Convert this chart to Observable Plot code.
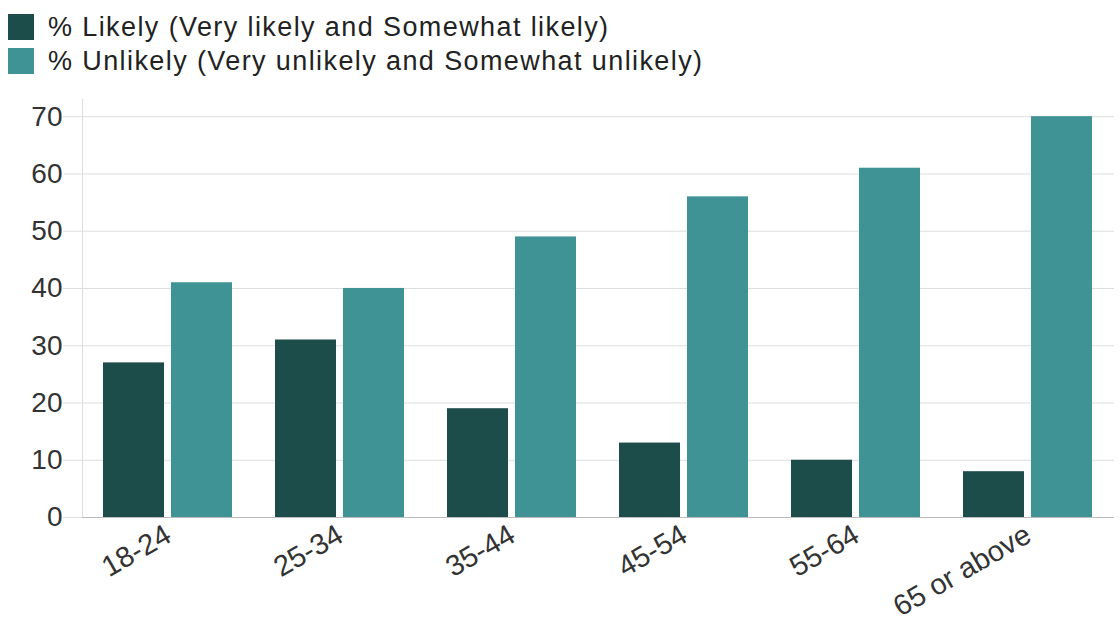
<!DOCTYPE html>
<html>
<head>
<meta charset="utf-8">
<script src="https://cdn.jsdelivr.net/npm/d3@7"></script>
<script src="https://cdn.jsdelivr.net/npm/@observablehq/plot@0.6"></script>
<style>
  html, body { margin: 0; padding: 0; background: #fff; }
  #legend { height: 90px; box-sizing: border-box; padding: 14px 0 0 8px; font-family: "Liberation Sans", Arial, sans-serif; font-size: 27px; color: #222; letter-spacing: 1.4px; }
  .row { display: flex; align-items: center; height: 26px; margin-bottom: 8px; }
  .sw { width: 26px; height: 26px; margin-right: 14px; flex: none; }
</style>
</head>
<body>
<div id="legend"></div>
<div id="chart"></div>
<script>
const ageGroups = ["18-24", "25-34", "35-44", "45-54", "55-64", "65 or above"];
const seriesNames = ["% Likely (Very likely and Somewhat likely)", "% Unlikely (Very unlikely and Somewhat unlikely)"];
const likely = [27, 31, 19, 13, 10, 8];
const unlikely = [41, 40, 49, 56, 61, 70];
const yTicks = [0, 10, 20, 30, 40, 50, 60, 70];
const colors = ["#1d4d4b", "#3f9395"];

const data = [];
ageGroups.forEach((age, i) => {
  data.push({age, series: seriesNames[0], value: likely[i]});
  data.push({age, series: seriesNames[1], value: unlikely[i]});
});

const legend = document.getElementById("legend");
seriesNames.forEach((name, i) => {
  const row = document.createElement("div");
  row.className = "row";
  const sw = document.createElement("span");
  sw.className = "sw";
  sw.style.background = colors[i];
  const t = document.createElement("span");
  t.textContent = name;
  row.appendChild(sw); row.appendChild(t);
  legend.appendChild(row);
});

const chart = Plot.plot({
  width: 1120,
  height: 532,
  marginTop: 9,
  marginBottom: 105,
  marginLeft: 82,
  marginRight: 6,
  style: {fontFamily: "'Liberation Sans', Arial, sans-serif", fontSize: "28px", color: "#333", background: "#fff"},
  fx: {domain: ageGroups, padding: 0, label: null},
  x: {domain: seriesNames, paddingInner: 0.1, paddingOuter: 0.307, axis: null},
  y: {domain: [0, 73], label: null},
  color: {domain: seriesNames, range: colors},
  marks: [
    Plot.gridY(yTicks, {stroke: "#ddd", strokeOpacity: 1}),
    Plot.axisY(yTicks, {tickSize: 19, tickPadding: 1, stroke: "#ddd", fill: "#333", label: null}),
    Plot.frame({anchor: "left", stroke: "#ddd", facetAnchor: "left"}),
    Plot.barY(data, {fx: "age", x: "series", y: "value", fill: "series"}),
    Plot.ruleY([0], {stroke: "#bbb"}),
    Plot.axisFx({anchor: "bottom", tickRotate: -30, tickSize: 0, tickPadding: 15, fontSize: 29, label: null, fill: "#333"})
  ]
});
document.getElementById("chart").appendChild(chart);
</script>
</body>
</html>
